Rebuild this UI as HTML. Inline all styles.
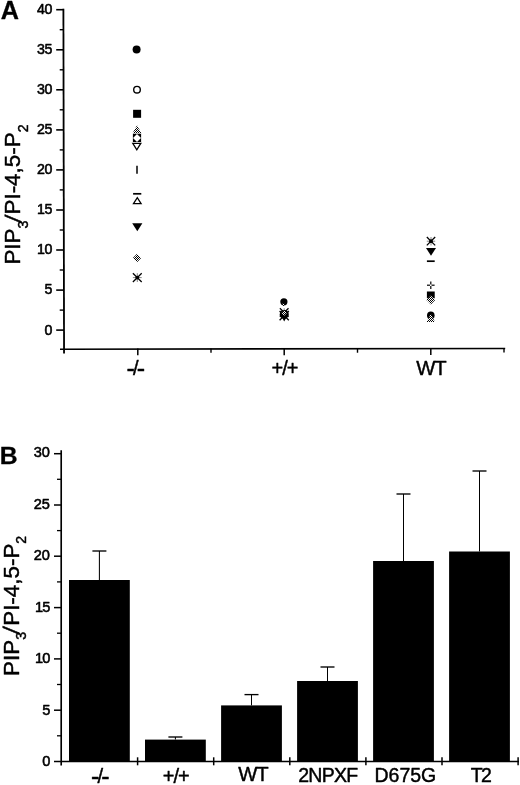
<!DOCTYPE html>
<html><head><meta charset="utf-8"><title>Figure</title>
<style>
html,body{margin:0;padding:0;background:#fff;}
body{width:520px;height:785px;overflow:hidden;}
svg{display:block;}
text{font-family:"Liberation Sans",Arial,sans-serif;fill:#000;stroke:#000;stroke-width:0.45px;stroke-linejoin:round;}
.tk{font-size:14.2px;text-anchor:end;stroke-width:0.55px;}
.xl{font-size:19px;text-anchor:middle;}
.pl{font-size:24.4px;font-weight:bold;stroke-width:0.3px;}
.yl{font-size:22.4px;}
.sub{font-size:14px;}
</style></head><body>
<svg width="520" height="785" viewBox="0 0 520 785">
<defs>
<pattern id="h" width="2" height="2" patternUnits="userSpaceOnUse" patternTransform="rotate(45)"><rect width="2" height="2" fill="#fff"/><rect width="1" height="2" fill="#000"/></pattern>
<pattern id="hx" width="2" height="2" patternUnits="userSpaceOnUse"><rect width="2" height="2" fill="#fff"/><rect width="1" height="1" fill="#000"/><rect x="1" y="1" width="1" height="1" fill="#000"/></pattern>
</defs>
<rect width="520" height="785" fill="#fff"/>

<g id="panelA">
<text class="pl" x="0.8" y="19" style="font-size:25.2px">A</text>
<g stroke="#000" fill="none">
<line x1="63.4" y1="8.8" x2="64.05" y2="353.4" stroke-width="1.8"/>
<line x1="60" y1="349.2" x2="505.2" y2="348.55" stroke-width="1.6"/>
<line x1="56.2" y1="330.1" x2="64" y2="330.1" stroke-width="1.6"/>
<line x1="56.2" y1="290.1" x2="64" y2="290.1" stroke-width="1.6"/>
<line x1="56.2" y1="250.0" x2="64" y2="250.0" stroke-width="1.6"/>
<line x1="56.2" y1="210.0" x2="64" y2="210.0" stroke-width="1.6"/>
<line x1="56.2" y1="169.9" x2="64" y2="169.9" stroke-width="1.6"/>
<line x1="56.2" y1="129.9" x2="64" y2="129.9" stroke-width="1.6"/>
<line x1="56.2" y1="89.8" x2="64" y2="89.8" stroke-width="1.6"/>
<line x1="56.2" y1="49.8" x2="64" y2="49.8" stroke-width="1.6"/>
<line x1="56.2" y1="9.7" x2="64" y2="9.7" stroke-width="1.6"/>
<line x1="59.7" y1="29.7" x2="64" y2="29.7" stroke-width="1.4"/>
<line x1="59.7" y1="69.8" x2="64" y2="69.8" stroke-width="1.4"/>
<line x1="59.7" y1="109.8" x2="64" y2="109.8" stroke-width="1.4"/>
<line x1="59.7" y1="149.9" x2="64" y2="149.9" stroke-width="1.4"/>
<line x1="59.7" y1="189.9" x2="64" y2="189.9" stroke-width="1.4"/>
<line x1="59.7" y1="230.0" x2="64" y2="230.0" stroke-width="1.4"/>
<line x1="59.7" y1="270.0" x2="64" y2="270.0" stroke-width="1.4"/>
<line x1="59.7" y1="310.1" x2="64" y2="310.1" stroke-width="1.4"/>
<line x1="137.8" y1="348.49" x2="137.8" y2="355.33" stroke-width="1.5"/>
<line x1="211.0" y1="348.38" x2="211.0" y2="352.86" stroke-width="1.4"/>
<line x1="284.2" y1="348.27" x2="284.2" y2="355.20" stroke-width="1.5"/>
<line x1="357.5" y1="348.17" x2="357.5" y2="352.73" stroke-width="1.4"/>
<line x1="430.8" y1="348.06" x2="430.8" y2="355.07" stroke-width="1.5"/>
<line x1="504.0" y1="347.95" x2="504.0" y2="352.60" stroke-width="1.4"/>
</g>
<text class="tk" x="52.3" y="334.5">0</text>
<text class="tk" x="52.3" y="294.4">5</text>
<text class="tk" x="51.7" y="254.4" style="letter-spacing:-0.6px">10</text>
<text class="tk" x="51.7" y="214.4" style="letter-spacing:-0.6px">15</text>
<text class="tk" x="51.7" y="174.3" style="letter-spacing:-0.6px">20</text>
<text class="tk" x="51.7" y="134.3" style="letter-spacing:-0.6px">25</text>
<text class="tk" x="51.7" y="94.2" style="letter-spacing:-0.6px">30</text>
<text class="tk" x="51.7" y="54.2" style="letter-spacing:-0.6px">35</text>
<text class="tk" x="51.7" y="14.1" style="letter-spacing:-0.6px">40</text>
<text class="xl" style="text-anchor:start" x="126.6" y="377.1"><tspan style="font-size:25px">-</tspan><tspan style="font-size:20px" dx="-2.0" dy="-2.4">/</tspan><tspan style="font-size:25px" dx="-1.8" dy="2.4">-</tspan></text>
<text class="xl" style="font-size:20px;letter-spacing:-1.0px" x="284.5" y="374.6">+/+</text>
<text class="xl" x="430.9" y="374.8" style="font-size:20.3px;letter-spacing:-1.0px">WT</text>
<g transform="translate(20.2,264.6) rotate(-90)"><text class="yl">PIP<tspan class="sub" dy="7.3">3</tspan><tspan dy="-7.3" dx="6.23">PI-4,5-P</tspan><tspan class="sub" dy="7.3">2</tspan></text><text class="yl" transform="translate(41.49,0.4) skewX(-8)">/</text></g>
<circle cx="136.6" cy="49.4" r="4" fill="#000"/>
<circle cx="137" cy="89.7" r="3.3" fill="#fff" stroke="#000" stroke-width="1.4"/>
<rect x="133.1" y="109.8" width="8" height="8" fill="#000"/>
<polygon points="132.6,133.3 141.4,133.3 137,125.30000000000001" fill="url(#hx)"/>
<rect x="132.9" y="133.8" width="8.2" height="8.2" fill="#000"/>
<polygon points="133.0,137.9 137,133.9 141.0,137.9 137,141.9" fill="#fff"/>
<polygon points="132.8,143.4 140.8,143.4 136.8,149.79999999999998" fill="#fff" stroke="#000" stroke-width="1.3" stroke-linejoin="miter"/>
<line x1="137" y1="165.7" x2="137" y2="173.7" stroke="#000" stroke-width="1.5"/>
<line x1="133.1" y1="193.8" x2="141.29999999999998" y2="193.8" stroke="#000" stroke-width="1.7"/>
<polygon points="133.5,203.7 141.10000000000002,203.7 137.3,197.7" fill="#fff" stroke="#000" stroke-width="1.3" stroke-linejoin="miter"/>
<polygon points="132.20000000000002,223.3 142.4,223.3 137.3,231.3" fill="#000"/>
<polygon points="132.8,258 137,253.8 141.2,258 137,262.2" fill="url(#hx)"/>
<g stroke="#000" stroke-width="1.25"><line x1="132.9" y1="273.20000000000005" x2="141.70000000000002" y2="282.0"/><line x1="132.9" y1="282.0" x2="141.70000000000002" y2="273.20000000000005"/></g><g stroke="#000" stroke-width="0.8" opacity="0.6"><line x1="132.9" y1="277.6" x2="141.70000000000002" y2="277.6"/><line x1="137.3" y1="273.20000000000005" x2="137.3" y2="282.0"/></g><circle cx="137.3" cy="277.6" r="1.9" fill="#000"/>
<circle cx="283.9" cy="301.8" r="3.6" fill="#000"/>
<polygon points="281.79999999999995,304.6 283.4,303.0 285.0,304.6 283.4,306.20000000000005" fill="url(#hx)"/>
<g stroke="#000" stroke-width="1.25"><line x1="279.9" y1="308.3" x2="288.5" y2="316.90000000000003"/><line x1="279.9" y1="316.90000000000003" x2="288.5" y2="308.3"/></g><g stroke="#000" stroke-width="0.8" opacity="0.6"><line x1="279.9" y1="312.6" x2="288.5" y2="312.6"/><line x1="284.2" y1="308.3" x2="284.2" y2="316.90000000000003"/></g><circle cx="284.2" cy="312.6" r="1.9" fill="#000"/>
<g stroke="#000" stroke-width="1.25"><line x1="279.59999999999997" y1="311.0" x2="288.8" y2="320.20000000000005"/><line x1="279.59999999999997" y1="320.20000000000005" x2="288.8" y2="311.0"/></g><g stroke="#000" stroke-width="0.8" opacity="0.6"><line x1="279.59999999999997" y1="315.6" x2="288.8" y2="315.6"/><line x1="284.2" y1="311.0" x2="284.2" y2="320.20000000000005"/></g><circle cx="284.2" cy="315.6" r="1.9" fill="#000"/>
<circle cx="284.2" cy="314.4" r="4.5" fill="#000"/>
<polygon points="279.9,313.6 288.5,313.6 284.2,321.6" fill="#000"/>
<polygon points="281.5,313 284.2,310.3 286.9,313 284.2,315.7" fill="url(#hx)"/>
<g stroke="#000" stroke-width="1.25"><line x1="426.8" y1="237.0" x2="435.2" y2="245.39999999999998"/><line x1="426.8" y1="245.39999999999998" x2="435.2" y2="237.0"/></g><g stroke="#000" stroke-width="0.8" opacity="0.6"><line x1="426.8" y1="241.2" x2="435.2" y2="241.2"/><line x1="431.0" y1="237.0" x2="431.0" y2="245.39999999999998"/></g><circle cx="431.0" cy="241.2" r="1.9" fill="#000"/>
<polygon points="426.0,248.0 436.0,248.0 431.0,255.8" fill="#000"/>
<line x1="426.90000000000003" y1="261.2" x2="434.7" y2="261.2" stroke="#000" stroke-width="1.7"/>
<g stroke="#000" stroke-width="1.2"><line x1="427.0" y1="285.2" x2="434.6" y2="285.2"/><line x1="430.8" y1="281.4" x2="430.8" y2="289.0"/></g><rect x="430.0" y="284.4" width="1.6" height="1.6" fill="#fff"/>
<rect x="426.90000000000003" y="291.5" width="7.8" height="6.8" fill="#000"/>
<polygon points="426.40000000000003,300 430.8,295.6 435.2,300 430.8,304.4" fill="url(#hx)"/>
<circle cx="430.8" cy="315.4" r="3.8" fill="#000"/>
<polygon points="426.6,322 435.0,322 430.8,314" fill="url(#hx)"/>
</g>
<g id="panelB">
<text class="pl" x="-0.2" y="463.8" style="font-size:24.7px">B</text>
<g stroke="#000" fill="none">
<line x1="61.2" y1="450.2" x2="61.2" y2="765.4" stroke-width="1.65"/>
<line x1="54" y1="761.45" x2="519" y2="761.45" stroke-width="1.5"/>
<line x1="54" y1="710.2" x2="61.2" y2="710.2" stroke-width="1.5"/>
<line x1="54" y1="658.9" x2="61.2" y2="658.9" stroke-width="1.5"/>
<line x1="54" y1="607.6" x2="61.2" y2="607.6" stroke-width="1.5"/>
<line x1="54" y1="556.2" x2="61.2" y2="556.2" stroke-width="1.5"/>
<line x1="54" y1="505.0" x2="61.2" y2="505.0" stroke-width="1.5"/>
<line x1="54" y1="453.7" x2="61.2" y2="453.7" stroke-width="1.5"/>
<line x1="57" y1="479.3" x2="61.2" y2="479.3" stroke-width="1.3"/>
<line x1="57" y1="530.6" x2="61.2" y2="530.6" stroke-width="1.3"/>
<line x1="57" y1="581.9" x2="61.2" y2="581.9" stroke-width="1.3"/>
<line x1="57" y1="633.2" x2="61.2" y2="633.2" stroke-width="1.3"/>
<line x1="57" y1="684.5" x2="61.2" y2="684.5" stroke-width="1.3"/>
<line x1="57" y1="735.8" x2="61.2" y2="735.8" stroke-width="1.3"/>
<line x1="137.6" y1="757.3" x2="137.6" y2="765.3" stroke-width="1.5"/>
<line x1="213.7" y1="757.3" x2="213.7" y2="765.3" stroke-width="1.5"/>
<line x1="289.8" y1="757.3" x2="289.8" y2="765.3" stroke-width="1.5"/>
<line x1="365.9" y1="757.3" x2="365.9" y2="765.3" stroke-width="1.5"/>
<line x1="442.0" y1="757.3" x2="442.0" y2="765.3" stroke-width="1.5"/>
<line x1="518.1" y1="757.3" x2="518.1" y2="765.3" stroke-width="1.5"/>
</g>
<text class="tk" x="50.2" y="765.9" style="font-size:14.6px;letter-spacing:-0.2px">0</text>
<text class="tk" x="50.2" y="714.5" style="font-size:14.6px;letter-spacing:-0.2px">5</text>
<text class="tk" x="49.6" y="663.0" style="font-size:14.6px;letter-spacing:-0.8px">10</text>
<text class="tk" x="49.6" y="611.6" style="font-size:14.6px;letter-spacing:-0.8px">15</text>
<text class="tk" x="49.7" y="560.2" style="font-size:14.6px;letter-spacing:-0.2px">20</text>
<text class="tk" x="49.7" y="508.8" style="font-size:14.6px;letter-spacing:-0.2px">25</text>
<text class="tk" x="49.7" y="457.3" style="font-size:14.6px;letter-spacing:-0.2px">30</text>
<line x1="99.4" y1="580" x2="99.4" y2="551" stroke="#000" stroke-width="1.05"/>
<line x1="92.4" y1="551" x2="106.4" y2="551" stroke="#000" stroke-width="1.35"/>
<rect x="69.0" y="580" width="60.8" height="181.9" fill="#000"/>
<text class="xl" style="text-anchor:start" x="91.1" y="785.1"><tspan style="font-size:25px">-</tspan><tspan style="font-size:20px" dx="-2.0" dy="-2.4">/</tspan><tspan style="font-size:25px" dx="-1.8" dy="2.4">-</tspan></text>
<line x1="175.4" y1="739.6" x2="175.4" y2="737" stroke="#000" stroke-width="1.05"/>
<line x1="168.4" y1="737" x2="182.4" y2="737" stroke="#000" stroke-width="1.35"/>
<rect x="145.0" y="739.6" width="60.8" height="22.3" fill="#000"/>
<text class="xl" style="font-size:20px;letter-spacing:-1.0px" x="175.7" y="782.6">+/+</text>
<line x1="251.5" y1="705.4" x2="251.5" y2="694.6" stroke="#000" stroke-width="1.05"/>
<line x1="244.5" y1="694.6" x2="258.5" y2="694.6" stroke="#000" stroke-width="1.35"/>
<rect x="221.1" y="705.4" width="60.8" height="56.5" fill="#000"/>
<text class="xl" x="252.9" y="781.1" style="font-size:20.3px;letter-spacing:-1.0px">WT</text>
<line x1="327.5" y1="681" x2="327.5" y2="667" stroke="#000" stroke-width="1.05"/>
<line x1="320.5" y1="667" x2="334.5" y2="667" stroke="#000" stroke-width="1.35"/>
<rect x="297.1" y="681" width="60.8" height="80.9" fill="#000"/>
<text class="xl" x="327.8" y="782" style="font-size:19.5px;letter-spacing:-0.75px">2NPXF</text>
<line x1="403.5" y1="561" x2="403.5" y2="494" stroke="#000" stroke-width="1.05"/>
<line x1="396.5" y1="494" x2="410.5" y2="494" stroke="#000" stroke-width="1.35"/>
<rect x="373.1" y="561" width="60.8" height="200.9" fill="#000"/>
<text class="xl" x="405.4" y="782" style="font-size:19.5px;letter-spacing:0px">D675G</text>
<line x1="479.5" y1="551.5" x2="479.5" y2="471" stroke="#000" stroke-width="1.05"/>
<line x1="472.5" y1="471" x2="486.5" y2="471" stroke="#000" stroke-width="1.35"/>
<rect x="449.1" y="551.5" width="60.8" height="210.4" fill="#000"/>
<text class="xl" x="480.5" y="781.6" style="font-size:19.5px;letter-spacing:-1.6px">T2</text>
<g transform="translate(18.7,675.9) rotate(-90)"><text class="yl">PIP<tspan class="sub" dy="7.3">3</tspan><tspan dy="-7.3" dx="6.23">PI-4,5-P</tspan><tspan class="sub" dy="7.3">2</tspan></text><text class="yl" transform="translate(41.49,0.4) skewX(-8)">/</text></g>
</g>
</svg></body></html>
